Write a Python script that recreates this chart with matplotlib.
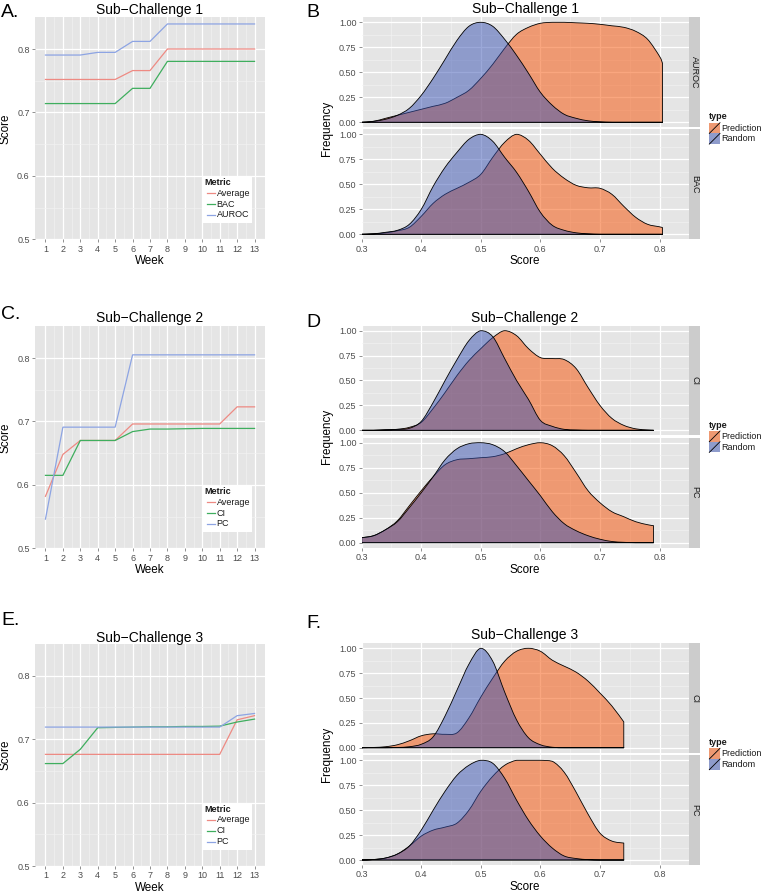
import numpy as np
import matplotlib
matplotlib.use("Agg")
import matplotlib.pyplot as plt
from matplotlib.patches import Rectangle, PathPatch
from matplotlib.lines import Line2D
from matplotlib.path import Path

plt.rcParams['font.family'] = ['Liberation Sans', 'DejaVu Sans']

# ---------------- data ----------------
weeks = [1, 2, 3, 4, 5, 6, 7, 8, 9, 10, 11, 12, 13]

sc1_avg = [0.752, 0.752, 0.752, 0.752, 0.752, 0.766, 0.766, 0.800, 0.800, 0.800, 0.800, 0.800, 0.800]
sc1_bac = [0.714, 0.714, 0.714, 0.714, 0.714, 0.738, 0.738, 0.7805, 0.7805, 0.7805, 0.7805, 0.7805, 0.7805]
sc1_auroc = [0.7905, 0.7905, 0.7905, 0.7947, 0.7947, 0.812, 0.812, 0.8395, 0.8395, 0.8395, 0.8395, 0.8395, 0.8395]

sc2_avg = [0.582, 0.648, 0.670, 0.670, 0.670, 0.696, 0.696, 0.696, 0.696, 0.696, 0.696, 0.723, 0.723]
sc2_ci = [0.615, 0.615, 0.670, 0.670, 0.670, 0.684, 0.688, 0.688, 0.6885, 0.689, 0.689, 0.689, 0.689]
sc2_pc = [0.546, 0.691, 0.691, 0.691, 0.691, 0.805, 0.805, 0.805, 0.805, 0.805, 0.805, 0.805, 0.805]

sc3_avg = [0.676, 0.676, 0.676, 0.676, 0.676, 0.676, 0.676, 0.676, 0.676, 0.676, 0.676, 0.7305, 0.737]
sc3_ci = [0.6615, 0.6615, 0.684, 0.718, 0.7185, 0.719, 0.7195, 0.7195, 0.720, 0.720, 0.7205, 0.727, 0.7316]
sc3_pc = [0.719, 0.719, 0.719, 0.719, 0.719, 0.719, 0.719, 0.719, 0.719, 0.719, 0.719, 0.737, 0.7405]

metric_names_1 = ["Average", "BAC", "AUROC"]
metric_names_23 = ["Average", "CI", "PC"]

# density curves (score grid and frequency values)
xs_B = [0.30, 0.32, 0.34, 0.36, 0.38, 0.40, 0.42, 0.44, 0.46, 0.48, 0.50, 0.52, 0.54,
        0.56, 0.58, 0.60, 0.62, 0.64, 0.66, 0.68, 0.70, 0.72, 0.74, 0.76, 0.78, 0.80, 0.805]
b_auroc_rand = [0, 0.01, 0.03, 0.07, 0.14, 0.27, 0.44, 0.63, 0.82, 0.96, 1.0, 0.96, 0.83,
                0.67, 0.49, 0.30, 0.17, 0.08, 0.04, 0.015, 0.005, 0, 0, 0, 0, 0, 0]
b_auroc_pred = [0, 0.01, 0.04, 0.07, 0.10, 0.13, 0.16, 0.19, 0.25, 0.32, 0.44, 0.58, 0.74,
                0.88, 0.95, 0.99, 1.0, 1.0, 0.995, 0.99, 0.98, 0.965, 0.95, 0.91, 0.83, 0.66, 0.59]
b_bac_rand = [0, 0.005, 0.02, 0.04, 0.10, 0.25, 0.48, 0.67, 0.82, 0.95, 1.0, 0.93, 0.77,
              0.62, 0.43, 0.22, 0.09, 0.04, 0.015, 0.005, 0, 0, 0, 0, 0, 0, 0]
b_bac_pred = [0, 0.005, 0.015, 0.035, 0.07, 0.18, 0.31, 0.40, 0.46, 0.52, 0.60, 0.77, 0.92,
              1.0, 0.94, 0.80, 0.66, 0.56, 0.49, 0.465, 0.46, 0.40, 0.28, 0.17, 0.10, 0.075, 0.067]

xs_D = [0.30, 0.32, 0.34, 0.36, 0.38, 0.40, 0.42, 0.44, 0.46, 0.48, 0.50, 0.52, 0.54,
        0.56, 0.58, 0.60, 0.62, 0.64, 0.66, 0.68, 0.70, 0.72, 0.74, 0.76, 0.78, 0.79]
d_ci_rand = [0, 0, 0.005, 0.01, 0.02, 0.09, 0.28, 0.50, 0.71, 0.90, 1.0, 0.94, 0.72,
             0.50, 0.31, 0.10, 0.04, 0.01, 0.003, 0, 0, 0, 0, 0, 0, 0]
d_ci_pred = [0, 0, 0.005, 0.01, 0.03, 0.08, 0.22, 0.38, 0.55, 0.70, 0.82, 0.93, 1.0,
             0.95, 0.82, 0.73, 0.72, 0.71, 0.62, 0.43, 0.25, 0.12, 0.05, 0.015, 0.003, 0]
d_pc_rand = [0.05, 0.07, 0.13, 0.21, 0.35, 0.50, 0.66, 0.83, 0.94, 0.99, 1.0, 0.98, 0.91,
             0.77, 0.62, 0.47, 0.31, 0.19, 0.12, 0.07, 0.035, 0.012, 0.004, 0, 0, 0]
d_pc_pred = [0.05, 0.07, 0.13, 0.22, 0.37, 0.52, 0.66, 0.78, 0.83, 0.84, 0.85, 0.86, 0.89,
             0.94, 0.98, 1.0, 0.97, 0.87, 0.70, 0.52, 0.40, 0.31, 0.26, 0.21, 0.18, 0.17]

xs_F = [0.30, 0.32, 0.34, 0.36, 0.38, 0.40, 0.42, 0.44, 0.46, 0.48, 0.50, 0.52, 0.54,
        0.56, 0.58, 0.60, 0.62, 0.64, 0.66, 0.68, 0.70, 0.72, 0.74]
f_ci_rand = [0, 0, 0, 0.003, 0.01, 0.035, 0.11, 0.32, 0.58, 0.84, 1.0, 0.87, 0.56,
             0.28, 0.10, 0.03, 0.005, 0, 0, 0, 0, 0, 0]
f_ci_pred = [0, 0.003, 0.01, 0.03, 0.07, 0.12, 0.14, 0.135, 0.15, 0.30, 0.51, 0.70, 0.87,
             0.97, 1.0, 0.97, 0.88, 0.82, 0.76, 0.67, 0.55, 0.42, 0.26]
f_pc_rand = [0, 0.005, 0.02, 0.06, 0.14, 0.30, 0.50, 0.69, 0.85, 0.95, 1.0, 0.97, 0.82,
             0.60, 0.40, 0.24, 0.12, 0.04, 0.015, 0.004, 0, 0, 0]
f_pc_pred = [0, 0.005, 0.02, 0.06, 0.14, 0.24, 0.30, 0.33, 0.37, 0.50, 0.69, 0.84, 0.95,
             1.0, 1.0, 1.0, 0.99, 0.88, 0.68, 0.46, 0.27, 0.19, 0.17]

type_names = ["Prediction", "Random"]

# ---------------- style ----------------
W, H = 761, 893
BG = '#E5E5E5'
MINOR = '#F2F2F2'
STRIP = '#CCCCCC'
TICKC = '#7F7F7F'
TXT = '#4D4D4D'
LINE_COLS = ['#EE8A83', '#3FAE5E', '#8DA4E3']
PRED_COL = (0.97, 0.31, 0.0, 0.5)
RAND_COL = (0.22, 0.32, 0.70, 0.5)

fig = plt.figure(figsize=(W / 100, H / 100), dpi=100)
fig.patch.set_facecolor('white')


def add_ax(l, t, r, b):
    return fig.add_axes([l / W, 1 - b / H, (r - l) / W, (b - t) / H])


def ftext(x, y, s, **kw):
    fig.text(x / W, 1 - y / H, s, **kw)


def fx(x):
    return x / W


def fy(y):
    return 1 - y / H


def base_style(ax):
    ax.set_facecolor(BG)
    for sp in ax.spines.values():
        sp.set_visible(False)
    ax.set_axisbelow(True)
    ax.grid(which='major', color='white', lw=0.9)
    ax.grid(which='minor', color=MINOR, lw=0.45)
    ax.tick_params(which='major', length=2.2, width=0.6, color=TICKC,
                   labelsize=6.5, labelcolor=TXT, pad=1.6)
    ax.tick_params(which='minor', length=0)


def density_path(xs, ys):
    """Closed outline: baseline, vertical edges and a smooth (Bezier) curve
    drawn through the read points."""
    pts = list(zip(xs, ys))
    top = max(ys)
    n = len(pts)
    verts = [(xs[0], 0.0), pts[0]]
    codes = [Path.MOVETO, Path.LINETO]
    for i in range(n - 1):
        p0 = pts[i - 1] if i > 0 else pts[i]
        p1 = pts[i]
        p2 = pts[i + 1]
        p3 = pts[i + 2] if i + 2 < n else pts[i + 1]
        c1 = (p1[0] + (p2[0] - p0[0]) / 6.0,
              min(max(p1[1] + (p2[1] - p0[1]) / 6.0, 0.0), top))
        c2 = (p2[0] - (p3[0] - p1[0]) / 6.0,
              min(max(p2[1] - (p3[1] - p1[1]) / 6.0, 0.0), top))
        verts += [c1, c2, p2]
        codes += [Path.CURVE4] * 3
    verts += [(xs[-1], 0.0), (xs[0], 0.0)]
    codes += [Path.LINETO, Path.CLOSEPOLY]
    return Path(verts, codes)


def line_panel(t, b, series, names, title, letter, letter_y, title_y):
    ax = add_ax(35, t, 265, b)
    base_style(ax)
    ax.set_xlim(0.4, 13.6)
    ax.set_ylim(0.5, 0.85)
    ax.set_xticks(weeks)
    ax.set_xticks(np.arange(1.5, 13, 1.0), minor=True)
    ax.set_yticks([0.5, 0.6, 0.7, 0.8])
    ax.set_yticks([0.55, 0.65, 0.75], minor=True)
    ax.set_yticklabels(['0.5', '0.6', '0.7', '0.8'])
    for ys, c in zip(series, LINE_COLS):
        ax.plot(weeks, ys, color=c, lw=0.9, solid_joinstyle='miter')
    # legend
    top = b - 62.5
    fig.add_artist(Rectangle((fx(201.7), fy(top + 46)), 50.6 / W, 46 / H,
                             transform=fig.transFigure, facecolor='white',
                             edgecolor='none'))
    ftext(204.5, top + 5.5, 'Metric', fontsize=6.5, fontweight='bold',
          va='center', ha='left', color='#1A1A1A')
    for i, (nm, c) in enumerate(zip(names, LINE_COLS)):
        yy = top + 16.5 + 10.8 * i
        fig.add_artist(Line2D([fx(206.5), fx(215)], [fy(yy), fy(yy)],
                              transform=fig.transFigure, color=c, lw=0.9))
        ftext(216.7, yy, nm, fontsize=6.5, va='center', ha='left', color='#1A1A1A')
    ftext(150, title_y, title, fontsize=10, ha='center', va='baseline')
    ftext(1, letter_y, letter, fontsize=14, ha='left', va='baseline')
    ftext(150, b + 22, 'Week', fontsize=8.4, ha='center', va='center')
    ftext(6, (t + b) / 2, 'Score', fontsize=8.4, ha='center', va='center', rotation=90)
    return ax


def dens_facet(t, b, xs, pred, rand, label, bottom):
    ax = add_ax(361.7, t, 689.3, b)
    base_style(ax)
    ax.set_xlim(0.3, 0.85)
    ax.set_ylim(-0.05, 1.05)
    ax.set_xticks([0.3, 0.4, 0.5, 0.6, 0.7, 0.8])
    ax.set_xticklabels(['0.3', '0.4', '0.5', '0.6', '0.7', '0.8'])
    ax.set_xticks([0.35, 0.45, 0.55, 0.65, 0.75], minor=True)
    ax.set_yticks([0, 0.25, 0.5, 0.75, 1.0])
    ax.set_yticklabels(['0.00', '0.25', '0.50', '0.75', '1.00'])
    ax.set_yticks([0.125, 0.375, 0.625, 0.875], minor=True)
    if not bottom:
        ax.tick_params(axis='x', which='both', bottom=False, labelbottom=False)
    for ys, col in ((pred, PRED_COL), (rand, RAND_COL)):
        ax.add_patch(PathPatch(density_path(xs, ys), facecolor=col,
                               edgecolor='black', lw=0.6, joinstyle='round'))
    sax = add_ax(689.3, t, 700, b)
    sax.set_facecolor(STRIP)
    for sp in sax.spines.values():
        sp.set_visible(False)
    sax.set_xticks([])
    sax.set_yticks([])
    sax.text(0.5, 0.5, label, rotation=-90, ha='center', va='center',
             fontsize=6.5, color='#1A1A1A', transform=sax.transAxes)
    return ax


def dens_panel(t1, b1, t2, b2, xs, curves, labels, title, letter, letter_y, title_y, leg_y):
    dens_facet(t1, b1, xs, curves[0], curves[1], labels[0], False)
    dens_facet(t2, b2, xs, curves[2], curves[3], labels[1], True)
    ftext(525, title_y, title, fontsize=10, ha='center', va='baseline')
    ftext(306.5, letter_y, letter, fontsize=14, ha='left', va='baseline')
    ftext(525, b2 + 22, 'Score', fontsize=8.4, ha='center', va='center')
    ftext(327, (t1 + b2) / 2, 'Frequency', fontsize=8.4, ha='center', va='center',
          rotation=90)
    # legend
    ftext(709.3, leg_y, 'type', fontsize=6.5, fontweight='bold', ha='left',
          va='center', color='#1A1A1A')
    for i, (nm, col) in enumerate(zip(type_names, (PRED_COL, RAND_COL))):
        k_top = leg_y + 6 + 10.7 * i
        fig.add_artist(Rectangle((fx(709.3), fy(k_top + 10.7)), 10.7 / W, 10.7 / H,
                                 transform=fig.transFigure, facecolor=BG,
                                 edgecolor='none'))
        fig.add_artist(Rectangle((fx(709.3), fy(k_top + 10.7)), 10.7 / W, 10.7 / H,
                                 transform=fig.transFigure, facecolor=col,
                                 edgecolor='none'))
        fig.add_artist(Line2D([fx(709.3), fx(720)], [fy(k_top + 10.7), fy(k_top)],
                              transform=fig.transFigure, color='black', lw=0.6))
        ftext(721.7, k_top + 5.35, nm, fontsize=6.5, ha='left', va='center',
              color='#1A1A1A')


line_panel(17.3, 239.3, [sc1_avg, sc1_bac, sc1_auroc], metric_names_1,
           'Sub\u2212Challenge 1', 'A.', 17, 14)
line_panel(326.3, 548.3, [sc2_avg, sc2_ci, sc2_pc], metric_names_23,
           'Sub\u2212Challenge 2', 'C.', 319.3, 322.3)
line_panel(644.0, 866.0, [sc3_avg, sc3_ci, sc3_pc], metric_names_23,
           'Sub\u2212Challenge 3', 'E.', 625, 641.7)

dens_panel(17.3, 127.3, 129.3, 239.3, xs_B,
           [b_auroc_pred, b_auroc_rand, b_bac_pred, b_bac_rand], ['AUROC', 'BAC'],
           'Sub\u2212Challenge 1', 'B', 16.7, 13.3, 116.7)
dens_panel(325.7, 435.3, 437.7, 547.7, xs_D,
           [d_ci_pred, d_ci_rand, d_pc_pred, d_pc_rand], ['CI', 'PC'],
           'Sub\u2212Challenge 2', 'D', 326.7, 321.7, 425)
dens_panel(643.3, 752.7, 755.3, 865.0, xs_F,
           [f_ci_pred, f_ci_rand, f_pc_pred, f_pc_rand], ['CI', 'PC'],
           'Sub\u2212Challenge 3', 'F.', 628.3, 639.3, 742.3)

fig.savefig('out.png', dpi=100, facecolor='white')
